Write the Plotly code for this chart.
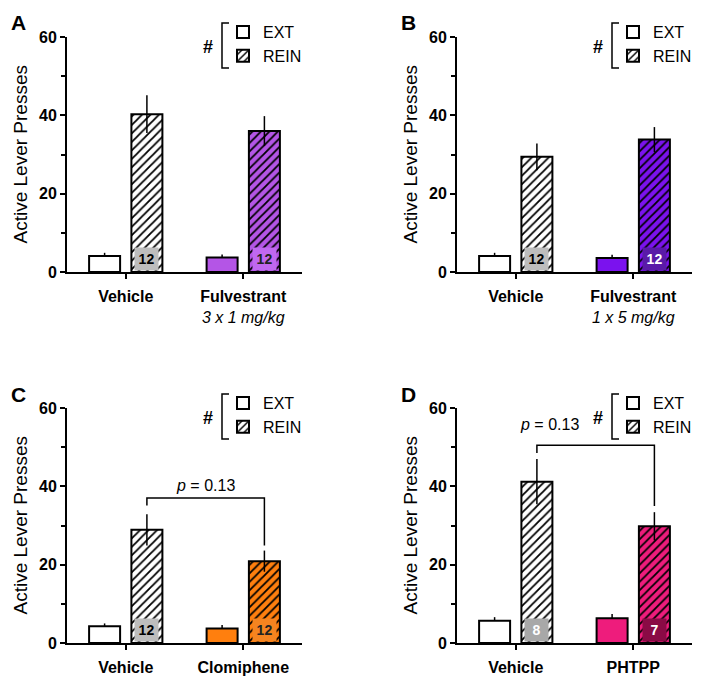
import plotly.graph_objects as go

# ---------------- data ----------------
panel_letters = ["A", "B", "C", "D"]

names_A = ["Vehicle", "Fulvestrant"]
subs_A = ["", "3 x 1 mg/kg"]
ext_A = [4.1, 3.7]
ext_err_A = [0.8, 0.8]
rein_A = [40.3, 36.0]
rein_err_A = [4.8, 3.8]
n_A = [12, 12]

names_B = ["Vehicle", "Fulvestrant"]
subs_B = ["", "1 x 5 mg/kg"]
ext_B = [4.1, 3.6]
ext_err_B = [0.8, 0.8]
rein_B = [29.4, 33.8]
rein_err_B = [3.4, 3.2]
n_B = [12, 12]

names_C = ["Vehicle", "Clomiphene"]
subs_C = ["", ""]
ext_C = [4.3, 3.7]
ext_err_C = [0.7, 0.9]
rein_C = [28.9, 20.9]
rein_err_C = [4.0, 2.7]
n_C = [12, 12]

names_D = ["Vehicle", "PHTPP"]
subs_D = ["", ""]
ext_D = [5.7, 6.3]
ext_err_D = [0.9, 1.1]
rein_D = [41.2, 29.8]
rein_err_D = [5.8, 3.6]
n_D = [8, 7]

y_ticks = [0, 20, 40, 60]
series_names = ["EXT", "REIN"]

# p-value brackets (panels C and D)
p_label = "p = 0.13"
bracket_top_C = 37.0
bracket_ends_C = [35.1, 24.9]
p_pos_C = [0.68, 40.3]
bracket_top_D = 50.5
bracket_ends_D = [48.5, 35.0]
p_pos_D = [0.29, 55.7]

# ---------------- style ----------------
FONT = "Arial, Liberation Sans, Helvetica, sans-serif"
W, H = 704, 684
PAGE = 8  # default page body margin in the browser
drug_colors = ["#B455E6", "#7B12EE", "#FF7F0E", "#EE1C7C"]
box_colors = [["#BDBDBD", "#C068F0"], ["#BDBDBD", "#5A1AA8"],
              ["#BDBDBD", "#F58420"], ["#A8A8A8", "#8A0A45"]]
box_text = [["black", "#222"], ["black", "white"], ["black", "#222"], ["white", "white"]]
lefts = [67, 457, 67, 457]
rights = [302, 692, 302, 692]
tops = [37, 37, 408, 408]
bottoms = [272, 272, 643, 643]
BARGAP = 0.28
BARGROUPGAP = 0.267
OFF = (1 - BARGAP) / 4


def px(x):
    return (x - PAGE) / W


def py(y):
    return 1 - (y - PAGE) / H


fig = go.Figure()
annotations = []
shapes = []
layout = dict(width=W, height=H, margin=dict(l=0, r=0, t=0, b=0, autoexpand=False),
              paper_bgcolor="white", plot_bgcolor="white",
              barmode="group", bargap=BARGAP, bargroupgap=BARGROUPGAP,
              font=dict(family=FONT, color="black"), showlegend=True)

panels = [
    (names_A, subs_A, ext_A, ext_err_A, rein_A, rein_err_A, n_A),
    (names_B, subs_B, ext_B, ext_err_B, rein_B, rein_err_B, n_B),
    (names_C, subs_C, ext_C, ext_err_C, rein_C, rein_err_C, n_C),
    (names_D, subs_D, ext_D, ext_err_D, rein_D, rein_err_D, n_D),
]

for i, (names, subs, ext, ext_err, rein, rein_err, ns) in enumerate(panels):
    sfx = "" if i == 0 else str(i + 1)
    xr, yr = "x" + sfx, "y" + sfx
    leg = "legend" + sfx
    xpos = list(range(len(names)))
    fills = ["white", drug_colors[i]]

    for j in xpos:
        fig.add_trace(go.Bar(
            x=[xpos[j]], y=[ext[j]], name=series_names[0], xaxis=xr, yaxis=yr,
            legend=leg, showlegend=(j == 0), offsetgroup="ext",
            marker=dict(color=fills[j], line=dict(color="black", width=2)),
            error_y=dict(type="data", symmetric=False, array=[ext_err[j]],
                         arrayminus=[0], color="black", thickness=1.5, width=0),
            hoverinfo="skip"))
    for j in xpos:
        fig.add_trace(go.Bar(
            x=[xpos[j]], y=[rein[j]], name=series_names[1], xaxis=xr, yaxis=yr,
            legend=leg, showlegend=(j == 0), offsetgroup="rein",
            marker=dict(color=fills[j], line=dict(color="black", width=2),
                        pattern=dict(shape="/", fgcolor="black", bgcolor=fills[j],
                                     size=6, solidity=0.3, fillmode="replace")),
            error_y=dict(type="data", array=[rein_err[j]], color="black", thickness=1.5, width=0),
            hoverinfo="skip"))

    ticktext = []
    for nm, sb in zip(names, subs):
        t = "<b>%s</b>" % nm
        if sb:
            t += "<br><i>%s</i>" % sb
        ticktext.append(t)

    L, R, T, B = lefts[i], rights[i], tops[i], bottoms[i]
    layout["xaxis" + sfx] = dict(
        domain=[px(L), px(R)], anchor=yr, range=[-0.5, 1.5],
        tickvals=xpos, ticktext=ticktext, showline=True, linewidth=2, linecolor="black",
        ticks="outside", ticklen=5, tickwidth=2, tickcolor="black",
        tickfont=dict(size=16, family=FONT, color="black"), ticklabelstandoff=4,
        showgrid=False, zeroline=False, fixedrange=True)
    layout["yaxis" + sfx] = dict(
        domain=[py(B), py(T)], anchor=xr, range=[0, 60],
        tickvals=y_ticks, showline=True, linewidth=2, linecolor="black",
        ticks="outside", ticklen=5, tickwidth=2, tickcolor="black",
        minor=dict(dtick=10, ticks="outside", ticklen=4, tickwidth=2, tickcolor="black", showgrid=False),
        tickfont=dict(size=16, family=FONT, color="black", weight="bold"),
        showgrid=False, zeroline=False, fixedrange=True)

    # n boxes at the base of REIN bars
    for j, n in enumerate(ns):
        annotations.append(dict(
            x=xpos[j] + OFF, y=0, xref=xr, yref=yr, yanchor="bottom", yshift=1,
            text="<b>%d</b>" % n, showarrow=False, bgcolor=box_colors[i][j],
            width=23, height=22, borderpad=0,
            font=dict(size=14, family=FONT, color=box_text[i][j])))

    # panel letter
    annotations.append(dict(x=px(L - 49), y=py(T - 14), xref="paper", yref="paper",
                            xanchor="center", yanchor="middle",
                            text="<b>%s</b>" % panel_letters[i], showarrow=False,
                            font=dict(size=21, family=FONT, color="black")))
    # y axis title
    annotations.append(dict(x=px(L - 47), y=py((T + B) / 2), xref="paper", yref="paper",
                            xanchor="center", yanchor="middle",
                            text="Active Lever Presses", textangle=-90, showarrow=False,
                            font=dict(size=19, family=FONT, color="black")))
    # legend with '#' bracket
    layout[leg] = dict(x=px(L + 156), y=py(T - 22), xanchor="left", yanchor="top",
                       bgcolor="rgba(0,0,0,0)", borderwidth=0, tracegroupgap=0,
                       font=dict(size=16, family=FONT, color="black"))
    annotations.append(dict(x=px(L + 141), y=py(T + 10), xref="paper", yref="paper",
                            xanchor="center", yanchor="middle",
                            text="<b>#</b>", showarrow=False,
                            font=dict(size=18, family=FONT, color="black")))
    bx, by0, by1 = L + 155, T - 14, T + 31
    shapes.append(dict(type="path", xref="paper", yref="paper",
                       path="M %f %f L %f %f L %f %f L %f %f" % (
                           px(bx + 7), py(by0), px(bx), py(by0), px(bx), py(by1), px(bx + 7), py(by1)),
                       line=dict(color="black", width=1.5)))

# p-value brackets
for sfx, top, ends, ppos in [("3", bracket_top_C, bracket_ends_C, p_pos_C),
                             ("4", bracket_top_D, bracket_ends_D, p_pos_D)]:
    x0, x1 = 0 + OFF, 1 + OFF
    fig.add_trace(go.Scatter(x=[x0, x0, x1, x1], y=[ends[0], top, top, ends[1]],
                             mode="lines", line=dict(color="black", width=1.5),
                             xaxis="x" + sfx, yaxis="y" + sfx, showlegend=False,
                             hoverinfo="skip", cliponaxis=False))
    annotations.append(dict(x=ppos[0], y=ppos[1], xref="x" + sfx, yref="y" + sfx,
                            text="<i>p</i>" + p_label[1:], showarrow=False,
                            font=dict(size=16, family=FONT, color="black")))

layout["annotations"] = annotations
layout["shapes"] = shapes
fig.update_layout(**layout)
fig.write_html("out.html")
